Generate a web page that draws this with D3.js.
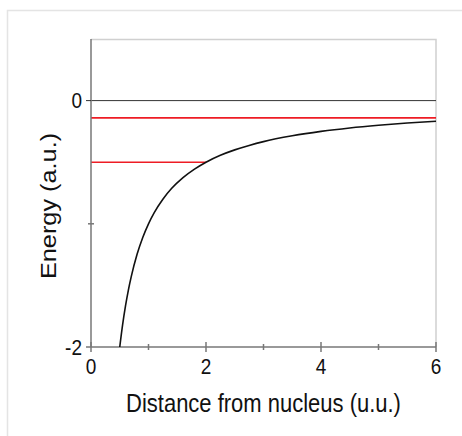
<!DOCTYPE html>
<html>
<head>
<meta charset="utf-8">
<script src="https://cdn.jsdelivr.net/npm/d3@7"></script>
<style>
  body { margin: 0; background: #fff; }
  svg { display: block; font-family: "Liberation Sans", Arial, sans-serif; }
</style>
</head>
<body>
<svg id="chart" width="462" height="436"></svg>
<script>
// values
var distance = [0.5, 0.55, 0.6, 0.65, 0.7, 0.8, 0.9, 1, 1.1, 1.25, 1.4, 1.6, 1.8, 2, 2.25, 2.5, 2.75, 3, 3.5, 4, 4.5, 5, 5.5, 6];
var energy = [-2, -1.818, -1.667, -1.538, -1.429, -1.25, -1.111, -1, -0.909, -0.8, -0.714, -0.625, -0.556, -0.5, -0.444, -0.4, -0.364, -0.333, -0.286, -0.25, -0.222, -0.2, -0.182, -0.167];
var levels = [-0.14, -0.5];
var levelEnds = [6, 2];
var xTicks = [0, 1, 2, 3, 4, 5, 6];
var xLabels = [0, 2, 4, 6];
var yTicks = [-2, -1, 0];
var yLabels = [-2, 0];

var svg = d3.select("#chart");
var margin = { top: 39, right: 26, bottom: 89, left: 91 };
var width = 462 - margin.left - margin.right,
    height = 436 - margin.top - margin.bottom;
var stretch = 1.15;

// outer light frame
svg.append("path")
  .attr("d", "M7.5,436 V10.5 H462")
  .attr("fill", "none")
  .attr("stroke", "#e4e4e4")
  .attr("stroke-width", 1.5);

var g = svg.append("g")
  .attr("transform", "translate(" + margin.left + "," + margin.top + ")");

var x = d3.scaleLinear().domain([0, 6]).range([0, width]),
    y = d3.scaleLinear().domain([-2, 0.5]).range([height, 0]);

// plot frame top / right
g.append("path")
  .attr("d", "M0,0.5 H" + width + " V" + height)
  .attr("fill", "none")
  .attr("stroke", "#d0d0d0")
  .attr("stroke-width", 1.5);

// zero line
g.append("line")
  .attr("x1", x(0)).attr("x2", x(6))
  .attr("y1", y(0)).attr("y2", y(0))
  .attr("stroke", "#333")
  .attr("stroke-width", 1);

// energy levels
g.selectAll(".level")
  .data(levels)
  .enter().append("line")
  .attr("class", "level")
  .attr("x1", x(0))
  .attr("x2", function(d, i) { return x(levelEnds[i]); })
  .attr("y1", function(d) { return y(d); })
  .attr("y2", function(d) { return y(d); })
  .attr("stroke", "#ee1c24")
  .attr("stroke-width", 1.6);

// axes
var xAxis = g.append("g")
  .attr("transform", "translate(0," + height + ")");
xAxis.append("line")
  .attr("x1", 0).attr("x2", width)
  .attr("stroke", "#777").attr("stroke-width", 1.5);
xAxis.selectAll(".tick")
  .data(xTicks)
  .enter().append("line")
  .attr("x1", function(d) { return x(d); })
  .attr("x2", function(d) { return x(d); })
  .attr("y1", function(d) { return d % 2 == 0 ? -5 : -3; })
  .attr("y2", function(d) { return d % 2 == 0 ? 5 : 3; })
  .attr("stroke", "#777").attr("stroke-width", 1.5);
xAxis.selectAll(".lbl")
  .data(xLabels)
  .enter().append("text")
  .attr("transform", function(d) { return "translate(" + x(d) + ",27) scale(1," + stretch + ")"; })
  .attr("text-anchor", "middle")
  .attr("font-size", 19)
  .attr("fill", "#111")
  .text(function(d) { return d; });

var yAxis = g.append("g");
yAxis.append("line")
  .attr("y1", 0).attr("y2", height)
  .attr("stroke", "#777").attr("stroke-width", 1.5);
yAxis.selectAll(".tick")
  .data(yTicks)
  .enter().append("line")
  .attr("y1", function(d) { return y(d); })
  .attr("y2", function(d) { return y(d); })
  .attr("x1", function(d) { return d == -1 ? -3 : -5; })
  .attr("x2", function(d) { return d == -1 ? 3 : 0; })
  .attr("stroke", function(d) { return d == 0 ? "#333" : "#777"; })
  .attr("stroke-width", function(d) { return d == 0 ? 1 : 1.5; });
yAxis.selectAll(".lbl")
  .data(yLabels)
  .enter().append("text")
  .attr("transform", function(d) { return "translate(-9," + y(d) + ") scale(1," + stretch + ")"; })
  .attr("dy", "0.36em")
  .attr("text-anchor", "end")
  .attr("font-size", 19)
  .attr("fill", "#111")
  .text(function(d) { return d; });

// curve
var line = d3.line()
  .x(function(d, i) { return x(distance[i]); })
  .y(function(d) { return y(d); })
  .curve(d3.curveMonotoneX);

g.append("path")
  .datum(energy)
  .attr("fill", "none")
  .attr("stroke", "#111")
  .attr("stroke-width", 1.6)
  .attr("d", line);

// titles
svg.append("text")
  .attr("transform", "translate(" + (margin.left + width / 2) + ",412) scale(1," + stretch + ")")
  .attr("text-anchor", "middle")
  .attr("font-size", 22)
  .attr("fill", "#111")
  .text("Distance from nucleus (u.u.)");

svg.append("text")
  .attr("transform", "translate(56,206) rotate(-90) scale(" + stretch + ",1)")
  .attr("text-anchor", "middle")
  .attr("font-size", 22)
  .attr("fill", "#111")
  .text("Energy (a.u.)");
</script>
</body>
</html>
